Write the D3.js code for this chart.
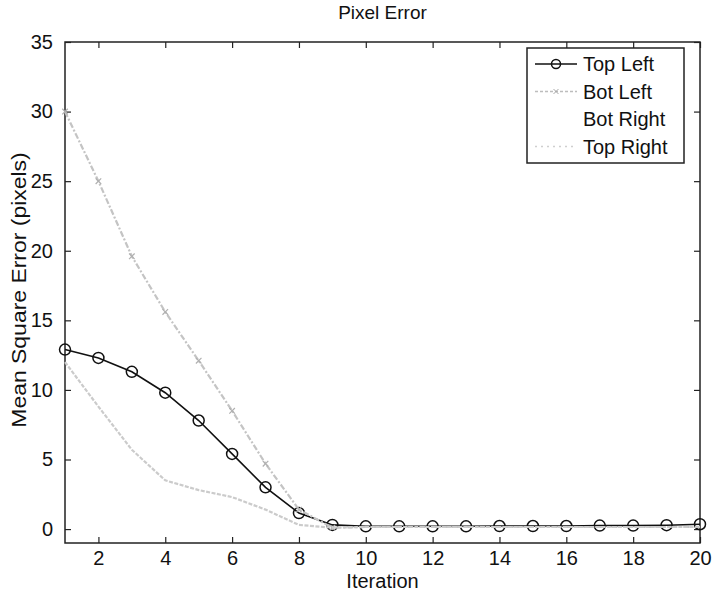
<!DOCTYPE html>
<html>
<head>
<meta charset="utf-8">
<script src="https://cdn.jsdelivr.net/npm/d3@7"></script>
<style>
  body { margin: 0; background: #fff; }
  svg text { font-family: "Liberation Sans", Arial, sans-serif; fill: #111; }
</style>
</head>
<body>
<div id="chart"></div>
<script>
// values
var iterations = [1, 2, 3, 4, 5, 6, 7, 8, 9, 10, 11, 12, 13, 14, 15, 16, 17, 18, 19, 20];
var topLeft  = [12.9, 12.3, 11.3, 9.8, 7.8, 5.4, 3.0, 1.15, 0.3, 0.2, 0.2, 0.2, 0.2, 0.22, 0.22, 0.22, 0.25, 0.25, 0.28, 0.35];
var botLeft  = [30.0, 25.0, 19.6, 15.6, 12.1, 8.5, 4.7, 1.4, 0.1, 0.15, 0.15, 0.15, 0.15, 0.15, 0.15, 0.15, 0.15, 0.15, 0.15, 0.15];
var topRight = [12.0, 8.8, 5.7, 3.5, 2.8, 2.3, 1.4, 0.3, 0.1, 0.15, 0.15, 0.15, 0.15, 0.15, 0.15, 0.15, 0.15, 0.15, 0.15, 0.15];
var seriesNames = ["Top Left", "Bot Left", "Bot Right", "Top Right"];
var xTicks = [2, 4, 6, 8, 10, 12, 14, 16, 18, 20];
var yTicks = [0, 5, 10, 15, 20, 25, 30, 35];

var W = 714, H = 599;
var margin = { top: 42, right: 14, bottom: 56, left: 65 };
var width = W - margin.left - margin.right,
    height = H - margin.top - margin.bottom;

var svg = d3.select("#chart").append("svg")
    .attr("width", W)
    .attr("height", H);

var g = svg.append("g")
    .attr("transform", "translate(" + margin.left + "," + margin.top + ")");

var x = d3.scaleLinear().domain([1, 20]).range([0, width]);
var y = d3.scaleLinear().domain([-1, 35]).range([height, 0]);

// ticks point inward, matlab style
var xAxis = g.append("g")
    .attr("transform", "translate(0," + height + ")")
    .call(d3.axisBottom(x).tickValues(xTicks).tickSizeInner(-6).tickSizeOuter(0).tickPadding(8));
var xTop = g.append("g")
    .call(d3.axisTop(x).tickValues(xTicks).tickSizeInner(-6).tickSizeOuter(0).tickFormat(""));
var yAxis = g.append("g")
    .call(d3.axisLeft(y).tickValues(yTicks).tickSizeInner(-6).tickSizeOuter(0).tickPadding(12));
var yRight = g.append("g")
    .attr("transform", "translate(" + width + ",0)")
    .call(d3.axisRight(y).tickValues(yTicks).tickSizeInner(-6).tickSizeOuter(0).tickFormat(""));

[xAxis, xTop, yAxis, yRight].forEach(function (a) {
    a.select(".domain").remove();
    a.selectAll(".tick line").attr("stroke", "#222").attr("stroke-width", 1.2);
    a.selectAll("text").style("font-size", "20px").attr("fill", "#111");
});

// frame
g.append("rect")
    .attr("width", width)
    .attr("height", height)
    .attr("fill", "none")
    .attr("stroke", "#222")
    .attr("stroke-width", 1.5);

var line = d3.line()
    .x(function (d, i) { return x(iterations[i]); })
    .y(function (d) { return y(d); });

// Top Left - black with circles (plotted first)
g.append("path")
    .datum(topLeft)
    .attr("fill", "none")
    .attr("stroke", "#111")
    .attr("stroke-width", 1.6)
    .attr("d", line);

g.selectAll(".tlMark")
    .data(topLeft)
    .enter()
    .append("circle")
    .attr("class", "tlMark")
    .attr("cx", function (d, i) { return x(iterations[i]); })
    .attr("cy", function (d) { return y(d); })
    .attr("r", 5.5)
    .attr("fill", "none")
    .attr("stroke", "#111")
    .attr("stroke-width", 1.5);

// Bot Left - gray dash-dot with x marks
g.append("path")
    .datum(botLeft)
    .attr("fill", "none")
    .attr("stroke", "#c4c4c4")
    .attr("stroke-width", 2.2)
    .attr("stroke-dasharray", "6,2,2,2")
    .attr("d", line);

g.selectAll(".blMark")
    .data(botLeft.slice(0, 9))
    .enter()
    .append("path")
    .attr("class", "blMark")
    .attr("transform", function (d, i) { return "translate(" + x(iterations[i]) + "," + y(d) + ")"; })
    .attr("d", d3.symbol(d3.symbolX, 22))
    .attr("fill", "none")
    .attr("stroke", "#b0b0b0")
    .attr("stroke-width", 1.2);

// Top Right - light dotted
g.append("path")
    .datum(topRight)
    .attr("fill", "none")
    .attr("stroke", "#cbcbcb")
    .attr("stroke-width", 2.2)
    .attr("stroke-dasharray", "4,1.5")
    .attr("d", line);

// title and axis labels
svg.append("text")
    .attr("x", margin.left + width / 2)
    .attr("y", 19)
    .attr("text-anchor", "middle")
    .style("font-size", "19px")
    .text("Pixel Error");

svg.append("text")
    .attr("x", margin.left + width / 2)
    .attr("y", 588)
    .attr("text-anchor", "middle")
    .style("font-size", "20px")
    .text("Iteration");

// label is stretched along its length in the original
svg.append("text")
    .attr("transform", "translate(26,290) rotate(-90) scale(1.12,1)")
    .attr("text-anchor", "middle")
    .style("font-size", "20.5px")
    .text("Mean Square Error (pixels)");

// legend
var legX = 527, legY = 48, legW = 157, legH = 115;
var leg = svg.append("g");
leg.append("rect")
    .attr("x", legX)
    .attr("y", legY)
    .attr("width", legW)
    .attr("height", legH)
    .attr("fill", "#fff")
    .attr("stroke", "#222")
    .attr("stroke-width", 1.5);

var legStyles = [
    { stroke: "#111", dash: null, w: 1.6 },
    { stroke: "#bdbdbd", dash: "3,2", w: 1.5 },
    { stroke: "#fff", dash: null, w: 1.5 },
    { stroke: "#cfcfcf", dash: "2,4", w: 1.5 }
];

seriesNames.forEach(function (name, i) {
    var cy = legY + 16 + i * 27.5;
    leg.append("line")
        .attr("x1", legX + 8).attr("x2", legX + 50)
        .attr("y1", cy).attr("y2", cy)
        .attr("stroke", legStyles[i].stroke)
        .attr("stroke-width", legStyles[i].w)
        .attr("stroke-dasharray", legStyles[i].dash);
    if (i === 0) {
        leg.append("circle")
            .attr("cx", legX + 29).attr("cy", cy).attr("r", 4.5)
            .attr("fill", "none").attr("stroke", "#111").attr("stroke-width", 1.5);
    }
    if (i === 1) {
        leg.append("path")
            .attr("transform", "translate(" + (legX + 29) + "," + cy + ")")
            .attr("d", d3.symbol(d3.symbolX, 18))
            .attr("fill", "none").attr("stroke", "#aaa");
    }
    leg.append("text")
        .attr("x", legX + 56)
        .attr("y", cy + 7)
        .style("font-size", "20px")
        .text(name);
});
</script>
</body>
</html>
